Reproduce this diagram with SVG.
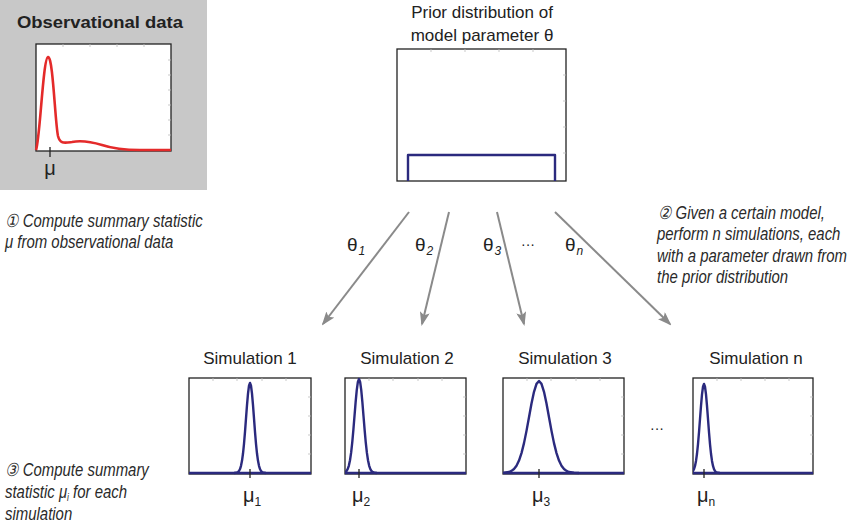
<svg xmlns="http://www.w3.org/2000/svg" xmlns:xlink="http://www.w3.org/1999/xlink" width="852" height="528" viewBox="0 0 852 528">
<style>
.t{font-family:"Liberation Sans",Arial,sans-serif;fill:#222}
.title{font-size:17px}
.step{font-size:18px;font-style:italic;fill:#2a2a2a}
.box{fill:#fff;stroke:#222;stroke-width:1.3}
.curve{fill:none;stroke:#2b2a7e;stroke-width:2.4;stroke-linejoin:round}
.tick{stroke:#222;stroke-width:1.3}
.minor{stroke:#bbb;stroke-width:0.8;fill:none}
.arrow{stroke:#8a8a8a;stroke-width:2;fill:none;marker-end:url(#ah)}
.mu{font-size:20px}
.sub{font-size:12px}
</style>
<defs>
<marker id="ah" viewBox="0 0 14 10" refX="12" refY="5" markerWidth="14" markerHeight="10" markerUnits="userSpaceOnUse" orient="auto">
<path d="M0,0 L14,5 L0,10 L3,5 z" fill="#8a8a8a"/>
</marker>
<path id="g" vector-effect="non-scaling-stroke" d="M-4,0 L-3.5,-0.0022 L-3,-0.0111 L-2.75,-0.0228 L-2.5,-0.0439 L-2.25,-0.0796 L-2,-0.1353 L-1.75,-0.2163 L-1.5,-0.3247 L-1.25,-0.4578 L-1,-0.6065 L-0.75,-0.7548 L-0.5,-0.8825 L-0.25,-0.9692 L0,-1 L0.25,-0.9692 L0.5,-0.8825 L0.75,-0.7548 L1,-0.6065 L1.25,-0.4578 L1.5,-0.3247 L1.75,-0.2163 L2,-0.1353 L2.25,-0.0796 L2.5,-0.0439 L2.75,-0.0228 L3,-0.0111 L3.5,-0.0022 L4,0"/>
<clipPath id="c1"><rect x="189" y="376" width="122" height="100"/></clipPath>
<clipPath id="c2"><rect x="345" y="376" width="121" height="100"/></clipPath>
<clipPath id="c3"><rect x="503" y="376" width="121" height="100"/></clipPath>
<clipPath id="c4"><rect x="693" y="376" width="120" height="100"/></clipPath>
</defs>

<g id="observational">
<rect x="0" y="0" width="207" height="190" fill="#c8c8c8"/>
<text class="t" x="100" y="28" text-anchor="middle" font-size="17" font-weight="bold" textLength="166" lengthAdjust="spacingAndGlyphs">Observational data</text>
<rect class="box" x="36" y="44" width="135" height="107"/>
<path class="minor" d="M63,44v3 M90,44v3 M117,44v3 M144,44v3 M171,60h-3 M171,75h-3 M171,90h-3 M171,105h-3 M171,120h-3 M171,135h-3"/>
<path d="M36,150 C40,140 43,58 48,57 C53,56 55,122 58,136 C60,144 64,143 72,142 C82,140 92,142 102,145 C114,149 126,150 140,150 L171,150" fill="none" stroke="#e42a2a" stroke-width="2.6" stroke-linejoin="round"/>
<line class="tick" x1="50" y1="147" x2="50" y2="157"/>
<text class="t mu" x="50" y="175" text-anchor="middle">μ</text>
</g>

<g id="prior">
<text class="t title" x="482" y="18" text-anchor="middle">Prior distribution of</text>
<text class="t title" x="482" y="41" text-anchor="middle">model parameter θ</text>
<rect class="box" x="397" y="49" width="169" height="132"/>
<path class="minor" d="M431,49v3 M465,49v3 M499,49v3 M533,49v3 M566,75h-3 M566,101h-3 M566,127h-3 M566,153h-3"/>
<path d="M408,181 L408,155 L555,155 L555,181" class="curve"/>
</g>

<g id="step1" transform="translate(5,0) scale(0.83,1)">
<text class="t step" x="0" y="227">① Compute summary statistic</text>
<text class="t step" x="0" y="248">μ from observational data</text>
</g>

<g id="step2" transform="translate(657,0) scale(0.83,1)">
<text class="t step" x="1" y="219">② Given a certain model,</text>
<text class="t step" x="0" y="240">perform n simulations, each</text>
<text class="t step" x="0" y="262">with a parameter drawn from</text>
<text class="t step" x="0" y="283">the prior distribution</text>
</g>

<g id="step3" transform="translate(5,0) scale(0.83,1)">
<text class="t step" x="0" y="476">③ Compute summary</text>
<text class="t step" x="0" y="498">statistic μ<tspan font-size="10" dy="3">i</tspan><tspan dy="-3"> for each</tspan></text>
<text class="t step" x="0" y="520">simulation</text>
</g>

<g id="connectors">
<line class="arrow" x1="409" y1="212" x2="323" y2="324"/>
<line class="arrow" x1="449" y1="212" x2="422" y2="324"/>
<line class="arrow" x1="497" y1="212" x2="524" y2="324"/>
<line class="arrow" x1="555" y1="212" x2="670" y2="324"/>
</g>

<g id="theta-labels">
<text class="t" x="347" y="251" font-size="19">θ<tspan class="sub" font-style="italic" dy="4" dx="1">1</tspan></text>
<text class="t" x="415" y="251" font-size="19">θ<tspan class="sub" font-style="italic" dy="4" dx="1">2</tspan></text>
<text class="t" x="483" y="251" font-size="19">θ<tspan class="sub" font-style="italic" dy="4" dx="1">3</tspan></text>
<text class="t" x="521" y="249" font-size="14">···</text>
<text class="t" x="565" y="251" font-size="19">θ<tspan class="sub" font-style="italic" dy="4" dx="1">n</tspan></text>
</g>

<g id="sim1">
<text class="t title" x="250" y="364" text-anchor="middle">Simulation 1</text>
<rect class="box" x="189" y="378" width="122" height="96"/>
<path class="minor" d="M213,378v3 M237,378v3 M262,378v3 M286,378v3 M311,397h-3 M311,416h-3 M311,435h-3 M311,454h-3"/>
<g clip-path="url(#c1)">
<line x1="189" y1="473" x2="311" y2="473" class="curve"/>
<use xlink:href="#g" class="curve" transform="translate(250,473) scale(4,90)"/>
</g>
<line class="tick" x1="250" y1="469" x2="250" y2="478"/>
<text class="t mu" x="243" y="502">μ<tspan class="sub" dy="4">1</tspan></text>
</g>

<g id="sim2">
<text class="t title" x="407" y="364" text-anchor="middle">Simulation 2</text>
<rect class="box" x="345" y="378" width="121" height="96"/>
<path class="minor" d="M369,378v3 M393,378v3 M418,378v3 M442,378v3 M466,397h-3 M466,416h-3 M466,435h-3 M466,454h-3"/>
<g clip-path="url(#c2)">
<line x1="345" y1="473" x2="466" y2="473" class="curve"/>
<use xlink:href="#g" class="curve" transform="translate(359,473) scale(4.5,94)"/>
</g>
<line class="tick" x1="359" y1="469" x2="359" y2="478"/>
<text class="t mu" x="352" y="502">μ<tspan class="sub" dy="4">2</tspan></text>
</g>

<g id="sim3">
<text class="t title" x="565" y="364" text-anchor="middle">Simulation 3</text>
<rect class="box" x="503" y="378" width="121" height="96"/>
<path class="minor" d="M527,378v3 M551,378v3 M576,378v3 M600,378v3 M624,397h-3 M624,416h-3 M624,435h-3 M624,454h-3"/>
<g clip-path="url(#c3)">
<line x1="503" y1="473" x2="624" y2="473" class="curve"/>
<use xlink:href="#g" class="curve" transform="translate(539,473) scale(10,92)"/>
</g>
<line class="tick" x1="539" y1="469" x2="539" y2="478"/>
<text class="t mu" x="532" y="502">μ<tspan class="sub" dy="4">3</tspan></text>
</g>

<g id="ellipsis">
<text class="t" x="650" y="433" font-size="14">···</text>
</g>

<g id="simn">
<text class="t title" x="756" y="364" text-anchor="middle">Simulation n</text>
<rect class="box" x="693" y="378" width="120" height="96"/>
<path class="minor" d="M717,378v3 M741,378v3 M765,378v3 M789,378v3 M813,397h-3 M813,416h-3 M813,435h-3 M813,454h-3"/>
<g clip-path="url(#c4)">
<line x1="693" y1="473" x2="813" y2="473" class="curve"/>
<use xlink:href="#g" class="curve" transform="translate(704,473) scale(4,89)"/>
</g>
<line class="tick" x1="704" y1="469" x2="704" y2="478"/>
<text class="t mu" x="697" y="502">μ<tspan class="sub" dy="4">n</tspan></text>
</g>
</svg>
